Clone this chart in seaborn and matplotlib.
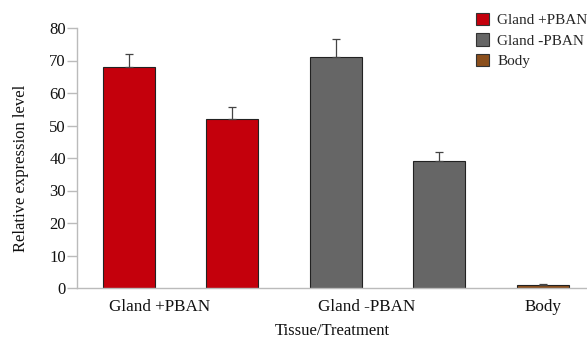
import matplotlib
matplotlib.use("Agg")
import matplotlib.pyplot as plt
from matplotlib.patches import Patch
from matplotlib.ticker import FixedLocator
import numpy as np
import pandas as pd
import seaborn as sns

# Bar data: one bar per sample, grouped by tissue/treatment
bar_ids = ["g_plus_1", "g_plus_2", "g_minus_1", "g_minus_2", "body"]
groups = ["Gland +PBAN", "Gland +PBAN", "Gland -PBAN", "Gland -PBAN", "Body"]
values = [68, 52, 71, 39, 1.0]
errors = [4.0, 3.7, 5.5, 2.7, 0.25]

group_names = ["Gland +PBAN", "Gland -PBAN", "Body"]
group_colors = ["#c4000c", "#666666", "#8b4f1c"]
group_label_pos = [0.3, 2.3, 4.0]

ylim_max = 80
yticks = list(range(0, 81, 10))

sns.set_theme(style="white")
plt.rcParams["font.family"] = ["Liberation Serif", "DejaVu Serif"]

df = pd.DataFrame({"bar": bar_ids, "group": groups, "value": values})
palette = dict(zip(group_names, group_colors))

fig = plt.figure(figsize=(5.87, 3.41), dpi=100)
ax = fig.add_axes([77 / 587, 1 - 288 / 341, 1 - 77 / 587, (288 - 28) / 341])

sns.barplot(data=df, x="bar", y="value", hue="group", hue_order=group_names,
            palette=palette, dodge=False, width=0.5, errorbar=None,
            edgecolor="#222222", linewidth=0.8, legend=False, ax=ax, saturation=1)

xpos = np.arange(len(bar_ids))
ax.errorbar(xpos, values, yerr=[np.zeros(len(errors)), errors], fmt="none",
            ecolor="#444444", elinewidth=0.9, capsize=2.6, capthick=0.9)

ax.set_xlim(-0.5, -0.5 + (587 - 77) / 103.5)
ax.set_ylim(0, ylim_max)
ax.set_yticks(yticks)
ax.set_yticklabels([str(t) for t in yticks], fontsize=12, color="#111111")

# Group labels on the x axis, tick marks at the bar slot boundaries
ax.set_xticks(group_label_pos)
ax.set_xticklabels(group_names, fontsize=12.3, color="#111111")
ax.tick_params(axis="x", which="major", length=0, pad=8)
ax.xaxis.set_minor_locator(FixedLocator([-0.5, 0.5, 1.5, 2.5, 3.5]))
ax.tick_params(axis="x", which="minor", length=7, width=1, color="#bbbbbb", direction="out")
ax.tick_params(axis="y", length=7, width=1, color="#bbbbbb", direction="out", left=True, pad=1)

for side in ["top", "right"]:
    ax.spines[side].set_visible(False)
for side in ["left", "bottom"]:
    ax.spines[side].set_color("#bbbbbb")
    ax.spines[side].set_linewidth(1)

ax.set_xlabel("Tissue/Treatment", fontsize=12, color="#111111", labelpad=6)
ax.set_ylabel("Relative expression level", fontsize=12, color="#111111")
ax.yaxis.set_label_coords(-0.095, 0.46)

handles = [Patch(facecolor=c, edgecolor="#333333", linewidth=0.8) for c in group_colors]
fig.legend(handles, group_names, loc="upper left", bbox_to_anchor=(476 / 587, 1 - 13 / 341),
           frameon=False, fontsize=11, handlelength=0.85, handleheight=0.85,
           handletextpad=0.55, labelspacing=0.4, borderaxespad=0, borderpad=0)

fig.savefig("out.png", dpi=100)
